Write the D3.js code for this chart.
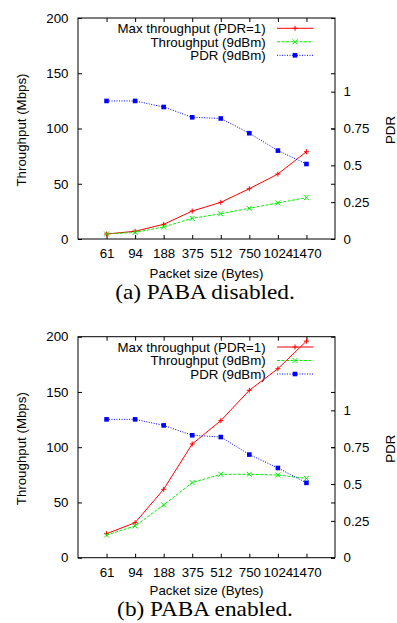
<!DOCTYPE html>
<html>
<head>
<meta charset="utf-8">
<script src="https://cdn.jsdelivr.net/npm/d3@7"></script>
<style>
  body { margin: 0; background: #fff; }
  svg { display: block; }
  text { font-family: "Liberation Sans", Arial, sans-serif; }
  .caption { font-family: "Liberation Serif", "Times New Roman", serif; }
</style>
</head>
<body>
<svg id="chart"></svg>
<script>
// packet sizes on the x axis
const categories = ["61", "94", "188", "375", "512", "750", "1024", "1470"];

// (a) PABA disabled
const maxThroughputA = [4.5, 7, 13.3, 25.3, 33.2, 45.5, 58.8, 79];
const throughputA = [4.5, 6, 10.9, 18.7, 22.9, 27.8, 32.6, 37.4];
const pdrA = [0.937, 0.937, 0.896, 0.826, 0.818, 0.718, 0.6, 0.509];

// (b) PABA enabled
const maxThroughputB = [21.7, 31.7, 61.9, 102.9, 124, 151.5, 171, 196];
const throughputB = [20.5, 28.7, 47.7, 67.9, 75.5, 75.5, 74.8, 71.8];
const pdrB = [0.939, 0.939, 0.898, 0.831, 0.819, 0.70, 0.609, 0.508];

const leftTicks = [0, 50, 100, 150, 200];
const rightTicks = [0, 0.25, 0.5, 0.75, 1];
const rightTickLabels = ["0", "0.25", "0.5", "0.75", "1"];

const legendLabels = ["Max throughput (PDR=1)", "Throughput (9dBm)", "PDR (9dBm)"];

const width = 397, height = 623;
const svg = d3.select("#chart").attr("width", width).attr("height", height);

const marginLeft = 78, plotW = 257, plotH = 221;
const fs = 13.3;

function panel(top, maxThr, thr, pdr, caption, captionY, xLabelGap) {
  const g = svg.append("g").attr("transform", `translate(${marginLeft},${top})`);

  const x = d3.scaleLinear().domain([-1, 8]).range([0, plotW]);
  const y = d3.scaleLinear().domain([0, 200]).range([plotH, 0]);
  const y2 = d3.scaleLinear().domain([0, 1.5]).range([plotH, 0]);
  const idx = d3.range(categories.length);

  const styleAxis = a => {
    a.select(".domain").remove();
    a.selectAll(".tick line").attr("stroke", "#000");
    a.selectAll("text").attr("font-size", fs).attr("fill", "#000");
  };

  // bottom + mirrored top
  g.append("g").attr("transform", `translate(0,${plotH})`)
    .call(d3.axisBottom(x).tickValues(idx).tickFormat(i => categories[i]).tickSize(-4).tickPadding(9.8))
    .call(styleAxis);
  g.append("g")
    .call(d3.axisTop(x).tickValues(idx).tickFormat("").tickSize(-4))
    .call(styleAxis);

  // left + mirrored on right
  g.append("g")
    .call(d3.axisLeft(y).tickValues(leftTicks).tickSize(-4).tickPadding(9.5))
    .call(styleAxis);
  g.append("g").attr("transform", `translate(${plotW},0)`)
    .call(d3.axisRight(y).tickValues(leftTicks).tickFormat("").tickSize(-4))
    .call(styleAxis);

  // PDR axis
  g.append("g").attr("transform", `translate(${plotW},0)`)
    .call(d3.axisRight(y2).tickValues(rightTicks).tickFormat((d, i) => rightTickLabels[i]).tickSize(-4).tickPadding(8.5))
    .call(styleAxis);

  g.append("rect")
    .attr("width", plotW).attr("height", plotH)
    .attr("fill", "none").attr("stroke", "#000").attr("stroke-width", 1);

  // axis labels
  g.append("text")
    .attr("transform", `translate(${26 - marginLeft},${plotH / 2 + 1.5}) rotate(-90)`)
    .attr("text-anchor", "middle").attr("font-size", fs)
    .text("Throughput (Mbps)");
  g.append("text")
    .attr("transform", `translate(${394.5 - marginLeft},${plotH / 2 + 1.5}) rotate(-90)`)
    .attr("text-anchor", "middle").attr("font-size", fs)
    .text("PDR");
  g.append("text")
    .attr("x", plotW / 2).attr("y", plotH + xLabelGap)
    .attr("text-anchor", "middle").attr("font-size", fs)
    .text("Packet size (Bytes)");
  svg.append("text").attr("class", "caption")
    .attr("transform", `translate(205,${captionY}) scale(1.165,1)`)
    .attr("text-anchor", "middle").attr("font-size", 20)
    .text(caption);

  const series = [
    { values: maxThr, scale: y, color: "#ff0000", dash: null, marker: "plus" },
    { values: thr, scale: y, color: "#00ee00", dash: "3,1.5", marker: "cross" },
    { values: pdr, scale: y2, color: "#0000ff", dash: "1,1.5", marker: "square" }
  ];

  const drawMarker = (sel, type, color, cx, cy) => {
    if (type === "square") {
      sel.append("rect").attr("x", cx - 2.3).attr("y", cy - 2.3)
        .attr("width", 4.6).attr("height", 4.6).attr("fill", color);
    } else {
      const r = 2.5;
      const p = type === "plus"
        ? `M${cx - r},${cy}H${cx + r}M${cx},${cy - r}V${cy + r}`
        : `M${cx - r},${cy - r}L${cx + r},${cy + r}M${cx - r},${cy + r}L${cx + r},${cy - r}`;
      sel.append("path").attr("d", p).attr("stroke", color).attr("stroke-width", 1).attr("fill", "none");
    }
  };

  // legend
  const legend = g.append("g");
  series.forEach((s, i) => {
    const ly = 10.3 + i * 13.5;
    legend.append("text")
      .attr("x", 187.7).attr("y", ly + 4.7)
      .attr("text-anchor", "end").attr("font-size", fs)
      .text(legendLabels[i]);
    legend.append("line")
      .attr("x1", 199).attr("x2", 235.5).attr("y1", ly).attr("y2", ly)
      .attr("stroke", s.color).attr("stroke-width", 1)
      .attr("stroke-dasharray", s.dash);
    drawMarker(legend, s.marker, s.color, 217, ly);
  });

  // series
  series.forEach(s => {
    const line = d3.line().x(i => x(i)).y(i => s.scale(s.values[i]));
    g.append("path").attr("d", line(idx))
      .attr("fill", "none").attr("stroke", s.color).attr("stroke-width", 1)
      .attr("stroke-dasharray", s.dash);
    const mg = g.append("g");
    idx.forEach(i => drawMarker(mg, s.marker, s.color, x(i), s.scale(s.values[i])));
  });
}

panel(18, maxThroughputA, throughputA, pdrA, "(a) PABA disabled.", 298.7, 38.5);
panel(336.7, maxThroughputB, throughputB, pdrB, "(b) PABA enabled.", 615.6, 37);
</script>
</body>
</html>
